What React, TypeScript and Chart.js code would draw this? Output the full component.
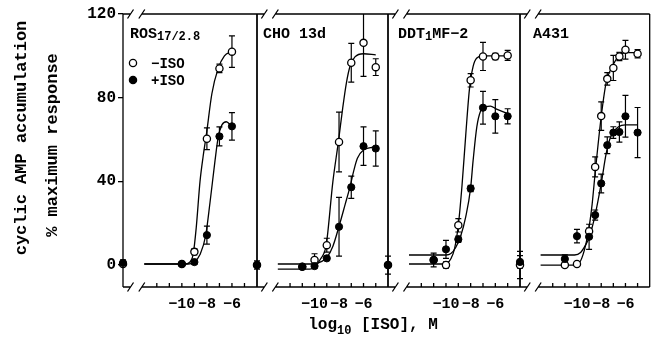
import { useEffect, useRef } from 'react';
import { Chart, registerables } from 'chart.js';

Chart.register(...registerables);

const W = 655;
const H = 343;
const FONT = '"Liberation Mono", "DejaVu Sans Mono", monospace';

// ---- axes ----
const X_MIN = -14.7;
const X_MAX = -4.0;
const Y_MIN = -10.5;
const Y_MAX = 120;
const Y_TICKS = [0, 40, 80, 120];
const X_TICKS = [-12, -11, -10, -9, -8, -7, -6, -5];
const X_TICK_LABELS = ['', '', '−10', '', '−8', '', '−6', ''];
const CONTROL_X = X_MIN; // basal point, drawn on the broken part of the axis
const BREAK_X = [-14.1, -13.2];

// ---- texts ----
const Y_TITLE = ['cyclic AMP accumulation', '% maximum response'];
const X_TITLE: [string, boolean][] = [['log', false], ['10', true], [' [ISO], M', false]];
const SERIES_NAMES = ['−ISO', '+ISO'];
const LABEL_ROS: [string, boolean][] = [['ROS', false], ['17/2.8', true]];
const LABEL_CHO: [string, boolean][] = [['CHO 13d', false]];
const LABEL_DDT: [string, boolean][] = [['DDT', false], ['1', true], ['MF−2', false]];
const LABEL_A431: [string, boolean][] = [['A431', false]];

// ---- ROS 17/2.8 ----
const ros_x = [-10, -9, -8, -7, -6];
const ros_minus = [0.5, 6.3, 60.4, 94, 102];
const ros_minus_err = [1, 1.5, 5.2, 2, 7.5];
const ros_plus = [0.5, 1.4, 14.3, 61.5, 66.3];
const ros_plus_err = [1, 1, 4.3, 4.5, 6.6];
const ros_ctrl = [0.5, 1];
const ros_ctrl_err = [1, 1.5];
const ros_minus_fit_x = [-13.0, -9.7, -9.35, -9.1, -8.85, -8.55, -8.3, -8.05, -7.6, -7.1, -6.6, -6.05];
const ros_minus_fit_y = [0.5, 0.5, 1.5, 5, 18, 40, 52, 62, 82, 94, 100, 102];
const ros_plus_fit_x = [-13.0, -9.5, -9.0, -8.55, -8.1, -7.75, -7.35, -7.1, -6.8, -6.45, -6.05];
const ros_plus_fit_y = [0.5, 0.5, 1.5, 5, 14, 30, 50, 61, 67, 68.5, 66.5];

// ---- CHO 13d ----
const cho_x = [-11, -10, -9, -8, -7, -6, -5];
const cho_minus = [-0.8, 2.4, 9.5, 58.8, 96.7, 106.2, 94.6];
const cho_minus_err = [1, 3, 3.3, 14.3, 9.3, 16, 4];
const cho_plus = [-0.8, -0.5, 3.2, 18.3, 37.2, 56.8, 55.7];
const cho_plus_err = [1, 1, 1, 14, 5.3, 9.2, 8.4];
const cho_ctrl = [0, 0];
const cho_ctrl_err = [1, 2];
const cho_minus_fit_x = [-13.0, -10.4, -10.0, -9.5, -9.05, -8.5, -8.05, -7.7, -7.4, -7.1, -6.7, -6.0, -5.0];
const cho_minus_fit_y = [-2, -2, -1, 3, 9.5, 40, 59, 75, 87, 95, 99.5, 101, 100.5];
const cho_plus_fit_x = [-13.0, -10.4, -10.0, -9.5, -9.0, -8.5, -8.0, -7.5, -7.1, -6.8, -6.5, -6.0, -5.0];
const cho_plus_fit_y = [0.5, 0.5, 0.5, 1.5, 3.5, 9, 18.5, 29, 37.5, 45, 51, 55, 56.5];

// ---- DDT1 MF-2 ----
const ddt_x = [-11, -10, -9, -8, -7, -6, -5];
const ddt_minus = [2.4, 0, 19, 88.3, 99.7, 99.7, 100.2];
const ddt_minus_err = [0, 1.5, 3.2, 3.2, 6.7, 1.5, 2.4];
const ddt_plus = [2.4, 7.5, 12.3, 36.6, 75.2, 71.1, 71.1];
const ddt_plus_err = [3.3, 4.3, 1.5, 1.5, 7.8, 8, 3.6];
const ddt_ctrl = [0, 0];
const ddt_ctrl_err = [1, 4.3];
const ddt_minus_fit_x = [-13.0, -10.3, -9.9, -9.6, -9.3, -9.0, -8.7, -8.4, -8.1, -7.8, -7.5, -7.0, -5.0];
const ddt_minus_fit_y = [0.5, 0.5, 1, 3, 8, 19, 38, 62, 84, 95, 99, 100, 100];
const ddt_plus_fit_x = [-13.0, -10.0, -9.6, -9.2, -8.8, -8.4, -8.0, -7.8, -7.5, -7.2, -6.8, -6.4, -5.9, -5.0];
const ddt_plus_fit_y = [4.8, 4.8, 5.5, 8.5, 14, 23, 37, 50, 66, 73.5, 75.5, 76, 74.5, 72.5];

// ---- A431 ----
const a431_x = [-11, -10, -9, -8.5, -8, -7.5, -7, -6.5, -6, -5];
const a431_minus = [0, 0.5, 16.2, 46.9, 71.2, 89, 94.2, 99.7, 102.9, 101];
const a431_minus_err = [1, 1, 1.5, 4.8, 6.8, 3, 6, 2, 4.5, 2];
const a431_plus = [2.9, 13.8, 13.5, 23.9, 39, 57.3, 63.3, 63.6, 71.1, 63.3];
const a431_plus_err = [2, 3.2, 6, 2.4, 4.5, 4, 2.8, 4.8, 10, 12];
const a431_ctrl = [0, 1.5];
const a431_ctrl_err = [6.5, 3];
const a431_minus_fit_x = [-13.0, -10.3, -9.9, -9.5, -9.06, -8.75, -8.5, -8.0, -7.6, -7.0, -6.5, -6.0, -5.0];
const a431_minus_fit_y = [0, 0, 0.5, 5, 16, 29, 44, 71, 87, 96, 100, 101.5, 101.5];
const a431_plus_fit_x = [-13.0, -10.2, -9.7, -9.3, -9.0, -8.5, -8.0, -7.6, -7.3, -7.0, -6.6, -6.0, -5.0];
const a431_plus_fit_y = [4.8, 4.8, 6, 9.5, 13, 24, 39, 53, 60, 63.5, 66, 67, 67];

// ---- layout (pixels) ----
const PANEL_EDGES = [123, 257, 388, 520, 653];
const PLOT_TOP = 14;
const PLOT_BOTTOM = 287;
const LABEL_X = [130, 263, 398, 533];

type Panel = {
  label: [string, boolean][];
  x: number[]; minus: number[]; minusErr: number[]; plus: number[]; plusErr: number[];
  ctrl: number[]; ctrlErr: number[];
  mfx: number[]; mfy: number[]; pfx: number[]; pfy: number[];
};

const PANELS: Panel[] = [
  { label: LABEL_ROS, x: ros_x, minus: ros_minus, minusErr: ros_minus_err, plus: ros_plus, plusErr: ros_plus_err, ctrl: ros_ctrl, ctrlErr: ros_ctrl_err, mfx: ros_minus_fit_x, mfy: ros_minus_fit_y, pfx: ros_plus_fit_x, pfy: ros_plus_fit_y },
  { label: LABEL_CHO, x: cho_x, minus: cho_minus, minusErr: cho_minus_err, plus: cho_plus, plusErr: cho_plus_err, ctrl: cho_ctrl, ctrlErr: cho_ctrl_err, mfx: cho_minus_fit_x, mfy: cho_minus_fit_y, pfx: cho_plus_fit_x, pfy: cho_plus_fit_y },
  { label: LABEL_DDT, x: ddt_x, minus: ddt_minus, minusErr: ddt_minus_err, plus: ddt_plus, plusErr: ddt_plus_err, ctrl: ddt_ctrl, ctrlErr: ddt_ctrl_err, mfx: ddt_minus_fit_x, mfy: ddt_minus_fit_y, pfx: ddt_plus_fit_x, pfy: ddt_plus_fit_y },
  { label: LABEL_A431, x: a431_x, minus: a431_minus, minusErr: a431_minus_err, plus: a431_plus, plusErr: a431_plus_err, ctrl: a431_ctrl, ctrlErr: a431_ctrl_err, mfx: a431_minus_fit_x, mfy: a431_minus_fit_y, pfx: a431_plus_fit_x, pfy: a431_plus_fit_y },
];

const zip = (xs: number[], ys: number[]) => xs.map((x, i) => ({ x, y: ys[i] }));

function drawRich(ctx: CanvasRenderingContext2D, parts: [string, boolean][], x: number, y: number, size: number, subSize: number, drop: number, align: 'left' | 'center') {
  let total = 0;
  for (const [t, sub] of parts) {
    ctx.font = `bold ${sub ? subSize : size}px ${FONT}`;
    total += ctx.measureText(t).width;
  }
  let cx = align === 'center' ? x - total / 2 : x;
  ctx.textAlign = 'left';
  ctx.textBaseline = 'alphabetic';
  for (const [t, sub] of parts) {
    ctx.font = `bold ${sub ? subSize : size}px ${FONT}`;
    ctx.fillText(t, cx, sub ? y + drop : y);
    cx += ctx.measureText(t).width;
  }
}

const errorBars = {
  id: 'errorBars',
  beforeDatasetsDraw(chart: any) {
    const { ctx, chartArea, scales } = chart;
    const xs = scales.x, ys = scales.y;
    ctx.save();
    ctx.strokeStyle = '#000';
    ctx.lineWidth = 1.2;
    chart.data.datasets.forEach((ds: any) => {
      if (!ds.errors) return;
      ds.data.forEach((p: any, k: number) => {
        const e = ds.errors[k];
        if (!e) return;
        const px = xs.getPixelForValue(p.x);
        let top = ys.getPixelForValue(p.y + e);
        const bot = ys.getPixelForValue(p.y - e);
        const clipped = top < chartArea.top;
        if (clipped) top = chartArea.top;
        ctx.beginPath();
        ctx.moveTo(px, top);
        ctx.lineTo(px, bot);
        if (!clipped) { ctx.moveTo(px - 3, top); ctx.lineTo(px + 3, top); }
        ctx.moveTo(px - 3, bot);
        ctx.lineTo(px + 3, bot);
        ctx.stroke();
      });
    });
    ctx.restore();
  },
};

function framePlugin() {
  return {
    id: 'frame',
    beforeDatasetsDraw(chart: any) {
      const { ctx, chartArea } = chart;
      const { left, right, top, bottom } = chartArea;
      const xs = chart.scales.x;
      const bA = xs.getPixelForValue(BREAK_X[0]);
      const bB = xs.getPixelForValue(BREAK_X[1]);
      ctx.save();
      ctx.strokeStyle = '#000';
      ctx.lineWidth = 1.3;
      ctx.beginPath();
      ctx.moveTo(left, top); ctx.lineTo(left, bottom);
      ctx.moveTo(right, top); ctx.lineTo(right, bottom);
      for (const yy of [top, bottom]) {
        ctx.moveTo(left, yy); ctx.lineTo(bA, yy);
        ctx.moveTo(bB, yy); ctx.lineTo(right, yy);
        for (const b of [bA, bB]) {
          ctx.moveTo(b - 3, yy + 4.5);
          ctx.lineTo(b + 3, yy - 4.5);
        }
      }
      for (const t of X_TICKS) {
        const px = xs.getPixelForValue(t);
        ctx.moveTo(px, bottom);
        ctx.lineTo(px, bottom - 4);
      }
      ctx.stroke();
      ctx.restore();
    },
  };
}

function textPlugin(i: number) {
  return {
    id: 'texts',
    afterDraw(chart: any) {
      const { ctx } = chart;
      ctx.save();
      ctx.fillStyle = '#000';
      drawRich(ctx, PANELS[i].label, LABEL_X[i], 38, 15, 12, 2, 'left');
      if (i === 0) {
        // legend
        const ys = [63, 80];
        ys.forEach((yy, k) => {
          ctx.beginPath();
          ctx.arc(133, yy, 3.6, 0, Math.PI * 2);
          ctx.fillStyle = k === 0 ? '#fff' : '#000';
          ctx.fill();
          ctx.lineWidth = 1.3;
          ctx.strokeStyle = '#000';
          ctx.stroke();
          ctx.fillStyle = '#000';
          ctx.font = `bold 14px ${FONT}`;
          ctx.textAlign = 'left';
          ctx.textBaseline = 'middle';
          ctx.fillText(SERIES_NAMES[k], 151, yy + 1);
        });
        // y title
        ctx.font = `bold 17px ${FONT}`;
        ctx.textAlign = 'center';
        ctx.textBaseline = 'middle';
        const pos = [[22, 138], [53, 145]];
        Y_TITLE.forEach((t, k) => {
          ctx.save();
          ctx.translate(pos[k][0], pos[k][1]);
          ctx.rotate(-Math.PI / 2);
          ctx.fillText(t, 0, 0);
          ctx.restore();
        });
        // x title
        drawRich(ctx, X_TITLE, 373, 329, 16, 12, 5, 'center');
      }
      ctx.restore();
    },
  };
}

function makeConfig(i: number): any {
  const p = PANELS[i];
  const L = PANEL_EDGES[i];
  const R = PANEL_EDGES[i + 1];
  const fitStyle = {
    type: 'line',
    borderColor: '#000',
    borderWidth: 1.3,
    pointRadius: 0,
    cubicInterpolationMode: 'monotone',
    fill: false,
    order: 3,
  };
  return {
    type: 'scatter',
    data: {
      datasets: [
        { ...fitStyle, label: 'fit −ISO', data: zip(p.mfx, p.mfy) },
        { ...fitStyle, label: 'fit +ISO', data: zip(p.pfx, p.pfy) },
        {
          type: 'scatter',
          label: SERIES_NAMES[0],
          data: [{ x: CONTROL_X, y: p.ctrl[0] }, ...zip(p.x, p.minus)],
          errors: [p.ctrlErr[0], ...p.minusErr],
          pointRadius: 3.6,
          pointBackgroundColor: '#fff',
          pointBorderColor: '#000',
          pointBorderWidth: 1.3,
          clip: false,
          order: 1,
        },
        {
          type: 'scatter',
          label: SERIES_NAMES[1],
          data: [{ x: CONTROL_X, y: p.ctrl[1] }, ...zip(p.x, p.plus)],
          errors: [p.ctrlErr[1], ...p.plusErr],
          pointRadius: 3.6,
          pointBackgroundColor: '#000',
          pointBorderColor: '#000',
          pointBorderWidth: 1,
          clip: false,
          order: 0,
        },
      ],
    },
    options: {
      animation: false,
      responsive: false,
      maintainAspectRatio: false,
      events: [],
      layout: { padding: { left: i === 0 ? 0 : L, right: W - R, top: PLOT_TOP, bottom: 0 } },
      plugins: { legend: { display: false }, tooltip: { enabled: false }, title: { display: false } },
      scales: {
        x: {
          type: 'linear',
          min: X_MIN,
          max: X_MAX,
          afterBuildTicks: (s: any) => { s.ticks = X_TICKS.map((v) => ({ value: v })); },
          afterFit: (s: any) => { s.height = H - PLOT_BOTTOM; },
          grid: { display: false, drawTicks: false },
          border: { display: false },
          ticks: {
            autoSkip: false,
            maxRotation: 0,
            padding: 8,
            color: '#000',
            font: { family: FONT, size: 15, weight: 'bold' },
            callback: (v: number) => { const k = X_TICKS.indexOf(v); return k >= 0 ? X_TICK_LABELS[k] : ''; },
          },
        },
        y: {
          type: 'linear',
          min: Y_MIN,
          max: Y_MAX,
          display: i === 0,
          afterBuildTicks: (s: any) => { s.ticks = Y_TICKS.map((v) => ({ value: v })); },
          afterFit: (s: any) => { s.width = i === 0 ? L : 0; },
          grid: { drawOnChartArea: false, drawTicks: true, tickLength: 5, color: '#000', lineWidth: 1.3 },
          border: { display: false },
          ticks: { padding: 2, color: '#000', font: { family: FONT, size: 16, weight: 'bold' } },
        },
      },
    },
    plugins: [framePlugin(), errorBars, textPlugin(i)],
  };
}

export default function App() {
  const r0 = useRef<HTMLCanvasElement>(null);
  const r1 = useRef<HTMLCanvasElement>(null);
  const r2 = useRef<HTMLCanvasElement>(null);
  const r3 = useRef<HTMLCanvasElement>(null);
  useEffect(() => {
    const refs = [r0, r1, r2, r3];
    const charts = refs.map((r, i) => new Chart(r.current as HTMLCanvasElement, makeConfig(i)));
    return () => charts.forEach((c) => c.destroy());
  }, []);
  const style: any = { position: 'absolute', left: 0, top: 0, width: W, height: H };
  return (
    <div style={{ position: 'fixed', left: 0, top: 0, width: W, height: H, background: '#fff' }}>
      <canvas ref={r0} width={W} height={H} style={style} />
      <canvas ref={r1} width={W} height={H} style={style} />
      <canvas ref={r2} width={W} height={H} style={style} />
      <canvas ref={r3} width={W} height={H} style={style} />
    </div>
  );
}
